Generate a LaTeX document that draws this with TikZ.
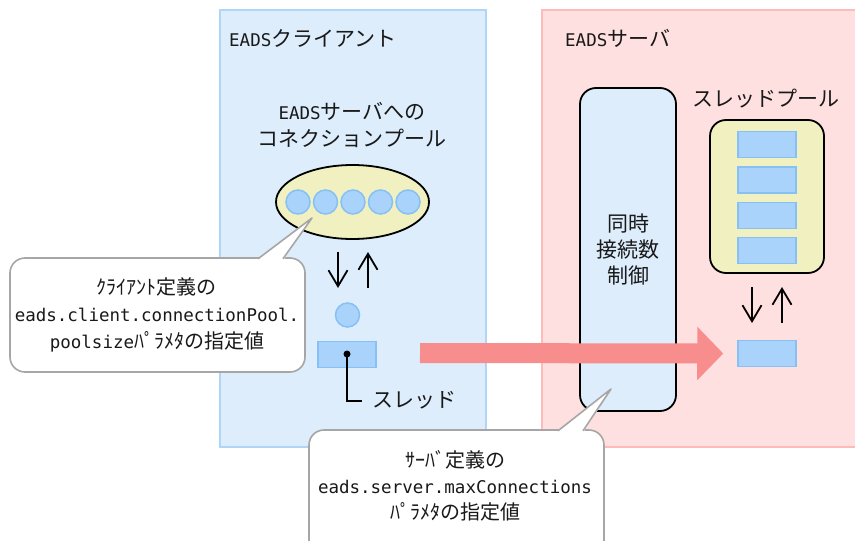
\documentclass[tikz,border=0pt]{standalone}
\usepackage{fontspec}
\setmainfont{Noto Sans CJK JP}
\newfontfamily\latinmono{DejaVu Sans Mono}
\usetikzlibrary{shapes.geometric,arrows.meta}
\definecolor{clientfill}{HTML}{DDEDFC}
\definecolor{clientline}{HTML}{AFD5F7}
\definecolor{serverfill}{HTML}{FFE0E0}
\definecolor{serverline}{HTML}{FFBABA}
\definecolor{poolfill}{HTML}{F0F0C0}
\definecolor{cellfill}{HTML}{A9D3FB}
\definecolor{cellline}{HTML}{86C0F5}
\definecolor{arrowred}{HTML}{F88D8D}
\definecolor{calloutline}{HTML}{A6A6A6}
\newcommand\lattxt[1]{{\latinmono\fontsize{17.5pt}{27pt}\selectfont #1}}
\begin{document}
\begin{tikzpicture}[x=1pt,y=-1pt,
  jtext/.style={font=\fontsize{21pt}{27pt}\selectfont, inner sep=0pt, text=black!90},
  ctext/.style={font=\fontsize{20pt}{27pt}\selectfont, inner sep=0pt, text=black!90},
  area/.style={line width=1.5pt},
  cell/.style={rectangle, draw=cellline, fill=cellfill, line width=1.5pt, minimum width=58pt, minimum height=26pt, inner sep=0pt},
  conn/.style={circle, draw=cellline, fill=cellfill, line width=1.5pt, minimum size=24pt, inner sep=0pt},
  blackbox/.style={draw=black, line width=1.8pt, rounded corners=16pt, inner sep=0pt},
  updown/.style={line width=1.8pt, -{Straight Barb[length=16pt,width=19pt,line width=1.8pt]}},
  calloutbox/.style={draw=calloutline, fill=white, line width=1.6pt, rounded corners=15pt},
  bigarrow/.style={draw=arrowred, line width=20pt, -{Triangle[length=26pt,width=52pt]}}
]
\useasboundingbox (0,0) rectangle (855,541);

% areas
\draw[area, draw=clientline, fill=clientfill] (220,10) rectangle (486,447);
\draw[area, draw=serverline, fill=serverfill] (542,10) rectangle (870,447);
\node[jtext, anchor=west] (clienttitle) at (229,38) {\lattxt{EADS}クライアント};
\node[jtext, anchor=west] (servertitle) at (565,38) {\lattxt{EADS}サーバ};

% client side
\node[jtext, align=center] (poollabel) at (352,125) {\lattxt{EADS}サーバへの\\コネクションプール};
\node[ellipse, draw=black, fill=poolfill, line width=1.8pt, minimum width=153pt, minimum height=74pt, inner sep=0pt] (pool) at (352.5,202) {};
\node[conn] (c1) at (298,202) {};
\node[conn] (c2) at (325.5,202) {};
\node[conn] (c3) at (353,202) {};
\node[conn] (c4) at (380.5,202) {};
\node[conn] (c5) at (408,202) {};

\coordinate (ld1) at (338,252);
\coordinate (ld2) at (338,288);
\coordinate (lu1) at (368,288);
\coordinate (lu2) at (368,252);
\draw[updown] (ld1) -- (ld2);
\draw[updown] (lu1) -- (lu2);

\node[conn] (single) at (347.5,315) {};
\node[cell] (thread) at (347,354.5) {};
\node[circle, fill=black, minimum size=7pt, inner sep=0pt] (tdot) at (347,354) {};
\node[jtext, anchor=west] (threadlabel) at (372,400) {スレッド};
\coordinate (tend) at (362,401);
\draw[line width=1.8pt] (tdot.center) |- (tend);

% server side
\node[blackbox, fill=clientfill, minimum width=96pt, minimum height=323pt, align=center, jtext, font=\fontsize{21pt}{26pt}\selectfont] (limit) at (628,249.5) {同時\\接続数\\制御};
\node[jtext] (tplabel) at (766,99) {スレッドプール};
\node[blackbox, fill=poolfill, minimum width=114pt, minimum height=153pt] (tpool) at (767,196.5) {};
\node[cell] (t1) at (767,144.5) {};
\node[cell] (t2) at (767,180) {};
\node[cell] (t3) at (767,215.5) {};
\node[cell] (t4) at (767,250.5) {};

\coordinate (rd1) at (752,287);
\coordinate (rd2) at (752,323);
\coordinate (ru1) at (782,323);
\coordinate (ru2) at (782,287);
\draw[updown] (rd1) -- (rd2);
\draw[updown] (ru1) -- (ru2);
\node[cell] (worker) at (767,353.5) {};

% big arrow
\coordinate (arrstart) at (420,353);
\draw[bigarrow] (arrstart) -- ([xshift=-14pt]worker.west);

% left callout
\draw[calloutbox] (10,258) rectangle (305,372);
\coordinate (lctip) at (312,218);
\fill[white] (257.5,260) -- (lctip) -- (283.5,260) -- cycle;
\draw[draw=calloutline, line width=1.6pt, line join=round] (258,258.8) -- (lctip) -- (283,258.8);
\node[ctext, align=center] (lctext) at (157,315) {ｸﾗｲｱﾝﾄ定義の\\\lattxt{eads.client.connectionPool.}\\\lattxt{poolsize}ﾊﾟﾗﾒﾀの指定値};

% bottom callout
\draw[calloutbox] (309,430) rectangle (604,570);
\coordinate (bctip) at (611,389);
\fill[white] (557.5,432) -- (bctip) -- (583.5,432) -- cycle;
\draw[draw=calloutline, line width=1.6pt, line join=round] (558,430.8) -- (bctip) -- (583,430.8);
\node[ctext, align=center, font=\fontsize{20pt}{26pt}\selectfont] (bctext) at (455,486) {ｻｰﾊﾞ定義の\\\lattxt{eads.server.maxConnections}\\ﾊﾟﾗﾒﾀの指定値};
\end{tikzpicture}
\end{document}
